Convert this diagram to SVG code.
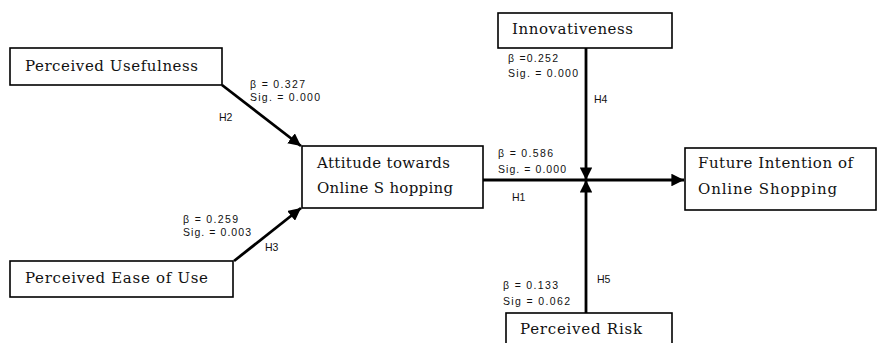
<svg xmlns="http://www.w3.org/2000/svg" width="877" height="343" viewBox="0 0 877 343">
<style>
.box{fill:#fff;stroke:#000;stroke-width:1.6}
.t{font-family:"DejaVu Serif","Liberation Serif",serif;font-size:15px;fill:#111}
.l{font-family:"Liberation Sans",Arial,sans-serif;font-size:10.5px;fill:#111}
.c{stroke:#000;stroke-width:2.8;fill:none}
</style>
<defs>
<marker id="ah" viewBox="0 0 10 10" refX="10" refY="5" markerWidth="4.5" markerHeight="4.5" orient="auto" markerUnits="strokeWidth">
<path d="M0,0 L10,5 L0,10 Z" fill="#000"/>
</marker>
</defs>
<rect width="877" height="343" fill="#fff"/>
<g id="connectors">
<line class="c" x1="222" y1="85" x2="301" y2="146" marker-end="url(#ah)"/>
<line class="c" x1="234" y1="261" x2="301" y2="208" marker-end="url(#ah)"/>
<line class="c" x1="483" y1="180" x2="684" y2="180" marker-end="url(#ah)"/>
<line class="c" x1="586" y1="48" x2="586" y2="180" marker-end="url(#ah)"/>
<line class="c" x1="586" y1="313" x2="586" y2="180" marker-end="url(#ah)"/>
</g>
<g id="labels">
<text class="l" x="250" y="88" textLength="55">β = 0.327</text>
<text class="l" x="250" y="101" textLength="70">Sig. = 0.000</text>
<text class="l" x="219" y="121">H2</text>
<text class="l" x="183" y="223" textLength="55">β = 0.259</text>
<text class="l" x="183" y="236" textLength="68">Sig. = 0.003</text>
<text class="l" x="265" y="251">H3</text>
<text class="l" x="508" y="62" textLength="50">β =0.252</text>
<text class="l" x="508" y="77" textLength="70">Sig. = 0.000</text>
<text class="l" x="594" y="103">H4</text>
<text class="l" x="498" y="157" textLength="55">β = 0.586</text>
<text class="l" x="498" y="173" textLength="68">Sig. = 0.000</text>
<text class="l" x="512" y="201">H1</text>
<text class="l" x="597" y="283">H5</text>
<text class="l" x="503" y="289" textLength="55">β = 0.133</text>
<text class="l" x="503" y="305" textLength="67">Sig = 0.062</text>
</g>
<g id="pu">
<rect class="box" x="10" y="48" width="212" height="37"/>
<text class="t" x="25" y="71" textLength="173">Perceived Usefulness</text>
</g>
<g id="peou">
<rect class="box" x="10" y="261" width="223" height="36"/>
<text class="t" x="25" y="283" textLength="183">Perceived Ease of Use</text>
</g>
<g id="att">
<rect class="box" x="302" y="146" width="181" height="62"/>
<text class="t" x="317" y="168" textLength="133">Attitude towards</text>
<text class="t" x="317" y="193" textLength="136">Online S hopping</text>
</g>
<g id="innov">
<rect class="box" x="498" y="13" width="174" height="35"/>
<text class="t" x="512" y="34" textLength="121">Innovativeness</text>
</g>
<g id="fi">
<rect class="box" x="685" y="148" width="191" height="62"/>
<text class="t" x="698" y="168" textLength="155">Future Intention of</text>
<text class="t" x="698" y="194" textLength="139">Online Shopping</text>
</g>
<g id="risk">
<rect class="box" x="506" y="313" width="166" height="40"/>
<text class="t" x="520" y="334" textLength="122">Perceived Risk</text>
</g>
</svg>
